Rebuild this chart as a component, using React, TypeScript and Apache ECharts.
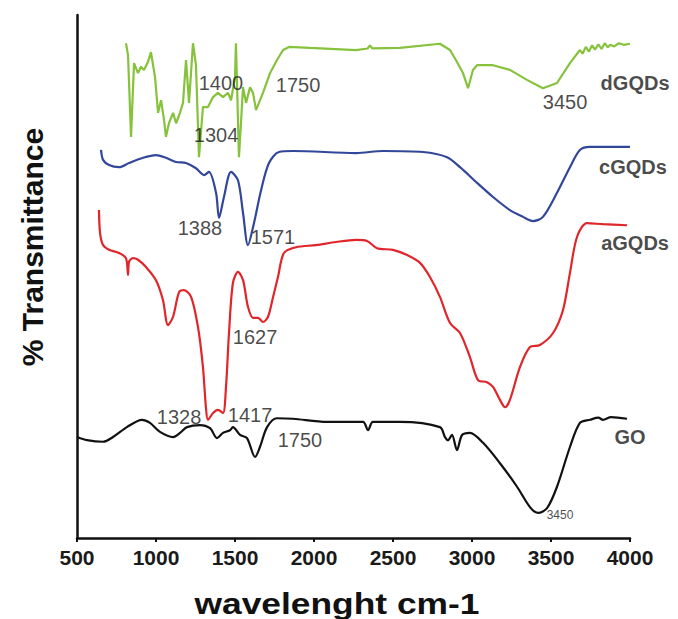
import React, { useEffect, useRef } from "react";
import * as echarts from "echarts";

// FTIR spectra: [wavenumber (cm-1), transmittance (arb. %)]
const dGQDs: [number, number][] = [
  [810, 94.6], [823, 92.3], [842, 76.7], [861, 90.8], [886, 88.9], [905, 90.1], [924, 89.5],
  [949, 91.0], [968, 92.9], [994, 88.1], [1013, 81.3], [1032, 83.7], [1051, 79.9], [1063, 76.7],
  [1082, 79.3], [1108, 81.3], [1127, 79.3], [1152, 81.3], [1171, 83.2], [1190, 91.4], [1209, 83.2],
  [1234, 94.6], [1253, 90.4], [1272, 72.8], [1297, 82.4], [1329, 82.4], [1361, 84.3], [1392, 85.1],
  [1424, 84.3], [1456, 85.1], [1475, 83.7], [1500, 88.1], [1506, 94.6], [1525, 72.8], [1551, 86.2],
  [1570, 83.2], [1595, 86.2], [1614, 85.1], [1633, 81.8], [1677, 85.1], [1722, 88.9], [1766, 91.4],
  [1804, 93.3], [1842, 93.9], [1975, 93.7], [2266, 93.3], [2340, 93.6], [2354, 94.2], [2370, 93.6],
  [2544, 93.7], [2797, 94.5], [2861, 93.3], [2905, 91.0], [2943, 88.9], [2975, 86.0], [3006, 89.5],
  [3032, 90.4], [3133, 90.4], [3240, 89.5], [3348, 87.6], [3449, 86.0], [3538, 87.0], [3620, 90.8],
  [3683, 93.3], [3700, 92.6], [3720, 93.9], [3740, 93.0], [3760, 94.2], [3778, 93.4], [3800, 94.4],
  [3820, 93.5], [3840, 94.6], [3860, 93.8], [3873, 94.3], [3900, 94.0], [3930, 94.6], [3960, 94.3],
  [4000, 94.5],
];

const cGQDs: [number, number][] = [
  [652, 74.2], [665, 72.3], [703, 71.3], [766, 70.9], [829, 71.7], [918, 72.7], [1000, 73.2],
  [1063, 72.7], [1127, 71.9], [1190, 71.7], [1253, 70.7], [1304, 69.4], [1335, 70.0], [1380, 66.0],
  [1399, 61.2], [1430, 65.2], [1475, 70.0], [1519, 68.4], [1551, 62.1], [1582, 56.0], [1620, 60.2],
  [1665, 66.5], [1715, 71.7], [1778, 73.8], [1867, 74.0], [2266, 73.6], [2437, 74.0], [2690, 73.8],
  [2842, 72.8], [2924, 70.9], [3032, 67.9], [3133, 65.2], [3240, 62.7], [3323, 61.4], [3386, 60.6],
  [3449, 61.4], [3538, 66.0], [3620, 70.9], [3683, 74.2], [3747, 74.8], [4000, 74.8],
];

const aGQDs: [number, number][] = [
  [639, 62.7], [646, 58.3], [665, 56.0], [703, 55.1], [766, 54.5], [810, 53.5], [823, 50.3],
  [829, 52.8], [854, 53.5], [886, 53.2], [937, 51.8], [1000, 49.3], [1044, 45.5], [1076, 40.7],
  [1108, 42.3], [1146, 47.0], [1177, 47.4], [1222, 46.1], [1266, 40.3], [1297, 32.7], [1316, 25.0],
  [1329, 22.6], [1361, 23.9], [1392, 24.5], [1424, 23.9], [1443, 28.9], [1462, 39.2], [1487, 48.8],
  [1519, 50.9], [1551, 49.3], [1582, 44.2], [1614, 42.1], [1646, 42.1], [1677, 41.3], [1709, 42.3],
  [1741, 46.1], [1772, 49.9], [1810, 54.5], [1886, 55.6], [2013, 56.0], [2139, 56.6], [2266, 57.0],
  [2335, 56.8], [2399, 55.4], [2500, 55.1], [2589, 54.1], [2671, 52.6], [2734, 49.9], [2797, 46.1],
  [2861, 41.1], [2924, 39.2], [2987, 34.6], [3038, 30.2], [3095, 29.8], [3133, 28.9], [3177, 26.4],
  [3209, 25.0], [3240, 26.4], [3304, 32.7], [3367, 36.5], [3430, 36.9], [3513, 39.2], [3576, 43.6],
  [3620, 50.7], [3665, 57.6], [3728, 60.2], [3829, 60.0], [3981, 59.8],
];

const GO: [number, number][] = [
  [500, 19.3], [563, 18.7], [665, 18.4], [728, 19.3], [816, 21.2], [911, 22.6], [962, 22.0],
  [1025, 20.3], [1108, 19.3], [1152, 20.1], [1196, 21.2], [1278, 21.6], [1342, 21.0], [1386, 19.1],
  [1424, 20.1], [1468, 20.6], [1487, 21.2], [1532, 19.7], [1576, 19.1], [1627, 15.5], [1658, 17.4],
  [1703, 21.2], [1766, 22.9], [1867, 22.8], [2082, 22.2], [2310, 22.2], [2342, 20.6], [2373, 22.2],
  [2544, 22.2], [2797, 21.2], [2829, 19.3], [2848, 18.7], [2873, 19.7], [2905, 16.8], [2937, 19.7],
  [2987, 20.1], [3070, 18.2], [3177, 14.3], [3285, 9.8], [3367, 5.9], [3418, 4.8], [3475, 5.7],
  [3538, 9.8], [3620, 17.4], [3683, 22.0], [3747, 22.6], [3800, 23.0], [3829, 22.6], [3880, 23.1],
  [3981, 22.8],
];

// peak annotations: [wavenumber, transmittance, text]
const peakNotes: [number, number, string][] = [
  [1411, 87.0, "1400"], [1899, 86.6, "1750"], [1380, 77.1, "1304"], [3589, 83.4, "3450"],
  [1278, 59.3, "1388"], [1740, 57.6, "1571"],
  [1627, 38.4, "1627"], [1146, 23.1, "1328"], [1595, 23.5, "1417"],
  [1911, 18.7, "1750"],
];
const smallNotes: [number, number, string][] = [[3557, 4.4, "3450"]];
const seriesNames: [number, number, string][] = [
  [4032, 87.0, "dGQDs"], [4019, 70.9, "cGQDs"], [4032, 56.4, "aGQDs"], [4000, 19.3, "GO"],
];

const colors = { d: "#86c23c", c: "#33479a", a: "#e0262a", go: "#111111" };

export default function App() {
  const ref = useRef<HTMLDivElement>(null);
  useEffect(() => {
    if (!ref.current) return;
    const chart = echarts.init(ref.current, null, { renderer: "svg" });
    const line = (name: string, data: [number, number][], color: string, smooth: number) => ({
      name,
      type: "line",
      data,
      showSymbol: false,
      symbol: "none",
      smooth,
      lineStyle: { color, width: 2.2 },
      z: 2,
    });
    const notes = (data: [number, number, string][], size: number, weight: string) => ({
      type: "scatter",
      data,
      symbolSize: 0,
      clip: false,
      silent: true,
      z: 5,
      label: {
        show: true,
        position: "inside",
        formatter: (p: any) => p.value[2],
        fontFamily: "Liberation Sans, Arial, sans-serif",
        fontSize: size,
        fontWeight: weight,
        color: "#1a1a1a",
      },
    });
    chart.setOption({
      animation: false,
      backgroundColor: "#ffffff",
      grid: { left: 77, right: 48, top: 15, bottom: 81, containLabel: false },
      xAxis: {
        type: "value",
        min: 500,
        max: 4000,
        interval: 500,
        axisLine: { show: true, onZero: false, lineStyle: { color: "#111", width: 2.5 } },
        axisTick: { show: true, inside: false, length: 4, lineStyle: { color: "#111", width: 2 } },
        splitLine: { show: false },
        axisLabel: {
          margin: 9,
          formatter: (v: number) => String(v),
          fontFamily: "Liberation Sans, Arial, sans-serif",
          fontSize: 21,
          fontWeight: "bold",
          color: "#1a1a1a",
        },
      },
      yAxis: {
        type: "value",
        min: 0,
        max: 100,
        axisLine: { show: true, lineStyle: { color: "#111", width: 2.5 } },
        axisTick: { show: false },
        axisLabel: { show: false },
        splitLine: { show: false },
      },
      graphic: [
        {
          type: "text",
          x: 337,
          y: 604,
          scaleX: 1.22,
          style: {
            text: "wavelenght cm-1",
            fontFamily: "Liberation Sans, Arial, sans-serif",
            fontSize: 29,
            fontWeight: "bold",
            fill: "#111",
            textAlign: "center",
            textVerticalAlign: "middle",
          },
        },
        {
          type: "text",
          x: 32,
          y: 247,
          rotation: Math.PI / 2,
          style: {
            text: "% Transmittance",
            fontFamily: "Liberation Sans, Arial, sans-serif",
            fontSize: 30,
            fontWeight: "bold",
            fill: "#111",
            textAlign: "center",
            textVerticalAlign: "middle",
          },
        },
      ],
      series: [
        line("dGQDs", dGQDs, colors.d, 0),
        line("cGQDs", cGQDs, colors.c, 0.3),
        line("aGQDs", aGQDs, colors.a, 0.3),
        line("GO", GO, colors.go, 0.3),
        notes(peakNotes, 20, "normal"),
        notes(smallNotes, 12, "normal"),
        notes(seriesNames, 20, "bold"),
      ],
    });
    return () => chart.dispose();
  }, []);
  return (
    <div
      ref={ref}
      style={{ position: "fixed", left: 0, top: 0, width: 678, height: 619, background: "#fff" }}
    />
  );
}
